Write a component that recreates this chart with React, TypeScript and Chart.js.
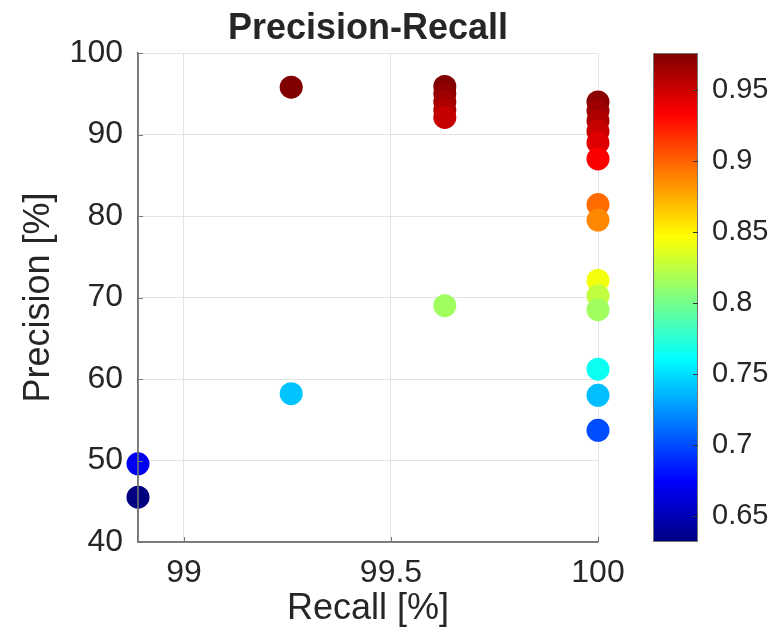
import React, { useEffect, useRef } from "react";
import { Chart, registerables } from "chart.js";

Chart.register(...registerables);

// ---- data ----
const recall = [
  98.889, 98.889,
  99.259, 99.259,
  99.63, 99.63, 99.63, 99.63, 99.63, 99.63,
  100, 100, 100, 100, 100, 100, 100, 100, 100, 100, 100, 100, 100, 100,
];
const precision = [
  49.6, 45.5,
  95.8, 58.2,
  95.9, 95.0, 94.0, 93.0, 92.1, 69.0,
  94.0, 92.9, 91.7, 90.4, 89.0, 87.0, 81.4, 79.5, 72.1, 70.2, 68.5, 61.2, 58.0, 53.7,
];
const score = [
  0.67, 0.632,
  0.976, 0.741,
  0.975, 0.97, 0.965, 0.96, 0.953, 0.815,
  0.972, 0.966, 0.96, 0.952, 0.944, 0.934, 0.897, 0.887, 0.843, 0.826, 0.815, 0.765, 0.739, 0.701,
];
const xTickValues = [99, 99.5, 100];
const yTickValues = [40, 50, 60, 70, 80, 90, 100];
const colorbarTicks = [0.65, 0.7, 0.75, 0.8, 0.85, 0.9, 0.95];
const xLimits = [98.889, 100];
const yLimits = [40, 100];
const titleText = "Precision-Recall";
const xLabel = "Recall [%]";
const yLabel = "Precision [%]";

const FONT = '"Liberation Sans", Arial, Helvetica, sans-serif';
const TEXT = "#262626";
const AXIS = "#767676";
const GRID = "#e4e4e4";

function jet(t: number): [number, number, number] {
  const c = (v: number) => Math.max(0, Math.min(1, v));
  const r = c(Math.min(4 * t - 1.5, -4 * t + 4.5));
  const g = c(Math.min(4 * t - 0.5, -4 * t + 3.5));
  const b = c(Math.min(4 * t + 0.5, -4 * t + 2.5));
  return [Math.round(r * 255), Math.round(g * 255), Math.round(b * 255)];
}
const rgb = (a: [number, number, number]) => `rgb(${a[0]},${a[1]},${a[2]})`;

const cMin = Math.min(...score);
const cMax = Math.max(...score);

const decorPlugin = {
  id: "decor",
  afterDraw(chart: any) {
    const ctx = chart.ctx;
    const area = chart.chartArea;
    const xs = chart.scales.x;
    const ys = chart.scales.y;
    ctx.save();

    // axis lines on top of markers
    ctx.strokeStyle = AXIS;
    ctx.lineWidth = 1.5;
    ctx.beginPath();
    ctx.moveTo(area.left, area.top);
    ctx.lineTo(area.left, area.bottom);
    ctx.lineTo(area.right, area.bottom);
    ctx.stroke();

    // inward ticks
    ctx.lineWidth = 1;
    ctx.beginPath();
    for (const v of xTickValues) {
      const px = Math.round(xs.getPixelForValue(v)) + 0.5;
      ctx.moveTo(px, area.bottom);
      ctx.lineTo(px, area.bottom - 5);
    }
    for (const v of yTickValues) {
      const py = Math.round(ys.getPixelForValue(v)) + 0.5;
      ctx.moveTo(area.left, py);
      ctx.lineTo(area.left + 5, py);
    }
    ctx.stroke();

    // title
    ctx.fillStyle = TEXT;
    ctx.font = `bold 36px ${FONT}`;
    ctx.textAlign = "center";
    ctx.textBaseline = "alphabetic";
    ctx.fillText(titleText, (area.left + area.right) / 2, 39);

    // colorbar
    const cbL = area.right + 55;
    const cbW = 45;
    const cbT = area.top;
    const cbB = area.bottom;
    const grad = ctx.createLinearGradient(0, cbB, 0, cbT);
    [0, 0.125, 0.375, 0.625, 0.875, 1].forEach((s) => grad.addColorStop(s, rgb(jet(s))));
    ctx.fillStyle = grad;
    ctx.fillRect(cbL, cbT, cbW, cbB - cbT);
    ctx.strokeStyle = AXIS;
    ctx.lineWidth = 1;
    ctx.strokeRect(cbL + 0.5, cbT + 0.5, cbW - 1, cbB - cbT - 1);

    ctx.font = `29px ${FONT}`;
    ctx.textAlign = "left";
    ctx.textBaseline = "middle";
    ctx.fillStyle = TEXT;
    ctx.strokeStyle = "#333";
    for (const v of colorbarTicks) {
      const py = cbB - ((v - cMin) / (cMax - cMin)) * (cbB - cbT);
      const ly = Math.round(py) + 0.5;
      ctx.beginPath();
      ctx.moveTo(cbL + cbW, ly);
      ctx.lineTo(cbL + cbW - 5, ly);
      ctx.stroke();
      ctx.fillText(String(v), cbL + cbW + 14, py);
    }
    ctx.restore();
  },
};

export default function App() {
  const ref = useRef<HTMLCanvasElement | null>(null);
  useEffect(() => {
    if (!ref.current) return;
    const points = recall.map((x, i) => ({ x, y: precision[i] }));
    const colors = score.map((s) => rgb(jet((s - cMin) / (cMax - cMin))));
    const chart = new Chart(ref.current, {
      type: "scatter",
      data: {
        datasets: [
          {
            data: points,
            backgroundColor: colors,
            borderWidth: 0,
            pointRadius: 11.5,
            pointHoverRadius: 11.5,
            clip: false,
          } as any,
        ],
      },
      options: {
        responsive: false,
        animation: false,
        devicePixelRatio: 1,
        events: [],
        layout: { padding: { left: 0, right: 178, top: 53, bottom: 0 } },
        plugins: { legend: { display: false }, tooltip: { enabled: false }, title: { display: false } },
        scales: {
          x: {
            type: "linear",
            min: xLimits[0],
            max: xLimits[1],
            afterBuildTicks: (s: any) => {
              s.ticks = xTickValues.map((v) => ({ value: v }));
            },
            afterFit: (s: any) => {
              s.height = 92;
            },
            grid: { color: GRID, lineWidth: 1, drawTicks: false },
            border: { display: true, color: AXIS, width: 1.5 },
            ticks: {
              padding: 12,
              color: TEXT,
              font: { family: FONT, size: 32 },
              callback: (v: any) => String(v),
            },
            title: {
              display: true,
              text: xLabel,
              color: TEXT,
              font: { family: FONT, size: 36 },
              padding: { top: 0, bottom: 3 },
            },
          },
          y: {
            type: "linear",
            min: yLimits[0],
            max: yLimits[1],
            afterBuildTicks: (s: any) => {
              s.ticks = yTickValues.map((v) => ({ value: v }));
            },
            afterFit: (s: any) => {
              s.width = 138;
            },
            grid: { color: GRID, lineWidth: 1, drawTicks: false },
            border: { display: true, color: AXIS, width: 1.5 },
            ticks: {
              padding: 15,
              color: TEXT,
              font: { family: FONT, size: 32 },
              callback: (v: any) => String(v),
            },
            title: {
              display: true,
              text: yLabel,
              color: TEXT,
              font: { family: FONT, size: 36 },
              padding: { top: 17.6, bottom: 0 },
            },
          },
        },
      },
      plugins: [decorPlugin],
    });
    return () => chart.destroy();
  }, []);
  return (
    <div style={{ position: "fixed", left: 0, top: 0, width: 776, height: 634, background: "#fff" }}>
      <canvas ref={ref} width={776} height={634} style={{ width: 776, height: 634 }} />
    </div>
  );
}
